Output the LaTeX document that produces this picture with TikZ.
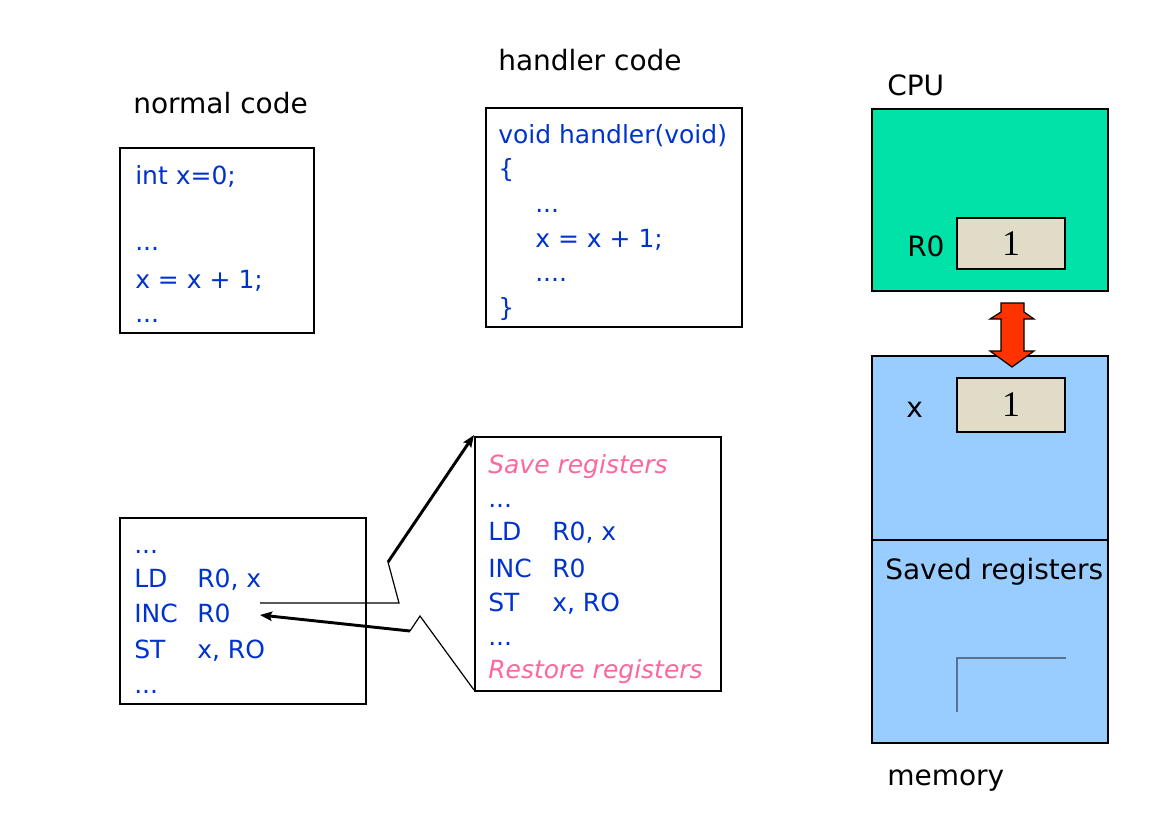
\documentclass[tikz,border=0pt]{standalone}
\usepackage{fontspec}
\setmainfont{DejaVu Sans}
\newfontfamily\serifone{Liberation Serif}
\usetikzlibrary{arrows.meta}
\definecolor{codeblue}{RGB}{0,51,204}
\definecolor{codepink}{RGB}{255,102,153}
\definecolor{cpugreen}{RGB}{0,226,168}
\definecolor{memblue}{RGB}{153,204,255}
\definecolor{cellbeige}{RGB}{224,220,200}
\definecolor{arrowred}{RGB}{255,51,0}
\definecolor{lgrey}{RGB}{90,112,144}
\begin{document}
\begin{tikzpicture}[x=0.75pt,y=-0.75pt,
  code/.style={anchor=base west, inner sep=0pt, text=codeblue, font=\fontsize{18.75}{22}\selectfont},
  pinkcode/.style={anchor=base west, inner sep=0pt, text=codepink, font=\fontsize{18.75}{22}\selectfont\itshape},
  lab/.style={anchor=base west, inner sep=0pt, font=\fontsize{21}{25}\selectfont},
  codebox/.style={draw=black, line width=1.1pt},
  cell/.style={draw=black, line width=1.3pt, fill=cellbeige},
  one/.style={inner sep=0pt, font=\serifone\fontsize{27}{30}\selectfont},
  thinline/.style={line width=0.9pt},
  thickarrow/.style={line width=2.2pt, -{Stealth[length=9pt,width=7pt,inset=1.5pt]}}
]
\useasboundingbox (0,0) rectangle (1151,822);

% ---------- normal code ----------
\node[lab] (lnormal) at (133,113) {normal code};
\draw[codebox] (120,148) rectangle (314,333);
\node[code] (n1) at (135,184) {int x=0;};
\node[code] (n2) at (135,250) {...};
\node[code] (n3) at (135,288) {x = x + 1;};
\node[code] (n4) at (135,322) {...};

% ---------- handler code ----------
\node[lab] (lhandler) at (498,70) {handler code};
\draw[codebox] (486,108) rectangle (742,327);
\node[code] (h1) at (498,143) {void handler(void)};
\node[code] (h2) at (498,177.5) {\{};
\node[code] (h3) at (535,212) {...};
\node[code] (h4) at (535,247) {x = x + 1;};
\node[code] (h5) at (535,281) {....};
\node[code] (h6) at (498,316) {\}};

% ---------- assembly, normal ----------
\draw[codebox] (120,518) rectangle (366,704);
\node[code] (a1) at (134,553) {...};
\node[code] (a2) at (134,587) {LD};
\node[code] (a2b) at (197,587) {R0, x};
\node[code] (a3) at (134,622) {INC};
\node[code] (a3b) at (197,622) {R0};
\node[code] (a4) at (134,658) {ST};
\node[code] (a4b) at (197,658) {x, RO};
\node[code] (a5) at (134,693) {...};

% ---------- assembly, handler ----------
\draw[codebox] (475,437) rectangle (721,691);
\node[pinkcode] (b1) at (488,473) {Save registers};
\node[code] (b2) at (488,507) {...};
\node[code] (b3) at (488,540) {LD};
\node[code] (b3b) at (552,540) {R0, x};
\node[code] (b4) at (488,577) {INC};
\node[code] (b4b) at (552,577) {R0};
\node[code] (b5) at (488,611) {ST};
\node[code] (b5b) at (552,611) {x, RO};
\node[code] (b6) at (488,645) {...};
\node[pinkcode] (b7) at (488,678) {Restore registers};

% ---------- connectors ----------
\coordinate (c1) at (260,603);
\coordinate (c2) at (399,603);
\coordinate (c3) at (388,562);
\coordinate (c4) at (474,435);
\draw[thinline] (c1) -- (c2) -- (c3);
\draw[thickarrow] (c3) -- (c4);

\coordinate (d1) at (474,690);
\coordinate (d2) at (420,616);
\coordinate (d3) at (410,631);
\coordinate (d4) at (260,615);
\draw[thinline] (d1) -- (d2) -- (d3);
\draw[thickarrow] (d3) -- (d4);

% ---------- CPU ----------
\node[lab] (lcpu) at (887,95) {CPU};
\draw[fill=cpugreen, draw=black, line width=1.4pt] (872,109) rectangle (1108,291);
\node[lab] (lr0) at (907,256) {R0};
\draw[cell] (957,218) rectangle (1065,269);
\node[one] (v0) at (1011,244) {1};

% ---------- memory ----------
\draw[fill=memblue, draw=black, line width=1.3pt] (872,356) rectangle (1108,743);
\draw[line width=1.3pt] (872,540) -- (1108,540);
\node[lab] (lx) at (906,417) {x};
\draw[cell] (957,378) rectangle (1065,432);
\node[one] (vx) at (1011,405) {1};
\node[lab] (lsaved) at (885,579) {Saved registers};
\draw[lgrey, line width=1.2pt] (957,712) -- (957,658) -- (1066,658);
\node[lab] (lmem) at (887,785) {memory};

% ---------- red double arrow ----------
\draw[fill=arrowred, draw=black, line width=0.9pt, line join=miter]
  (1001,303) -- (1024,303) -- (1024,312) -- (1034,319) -- (1024,319) -- (1024,351)
  -- (1034,351) -- (1012,367) -- (990,351) -- (1001,351) -- (1001,319) -- (990,319)
  -- (1001,312) -- cycle;
\end{tikzpicture}
\end{document}
